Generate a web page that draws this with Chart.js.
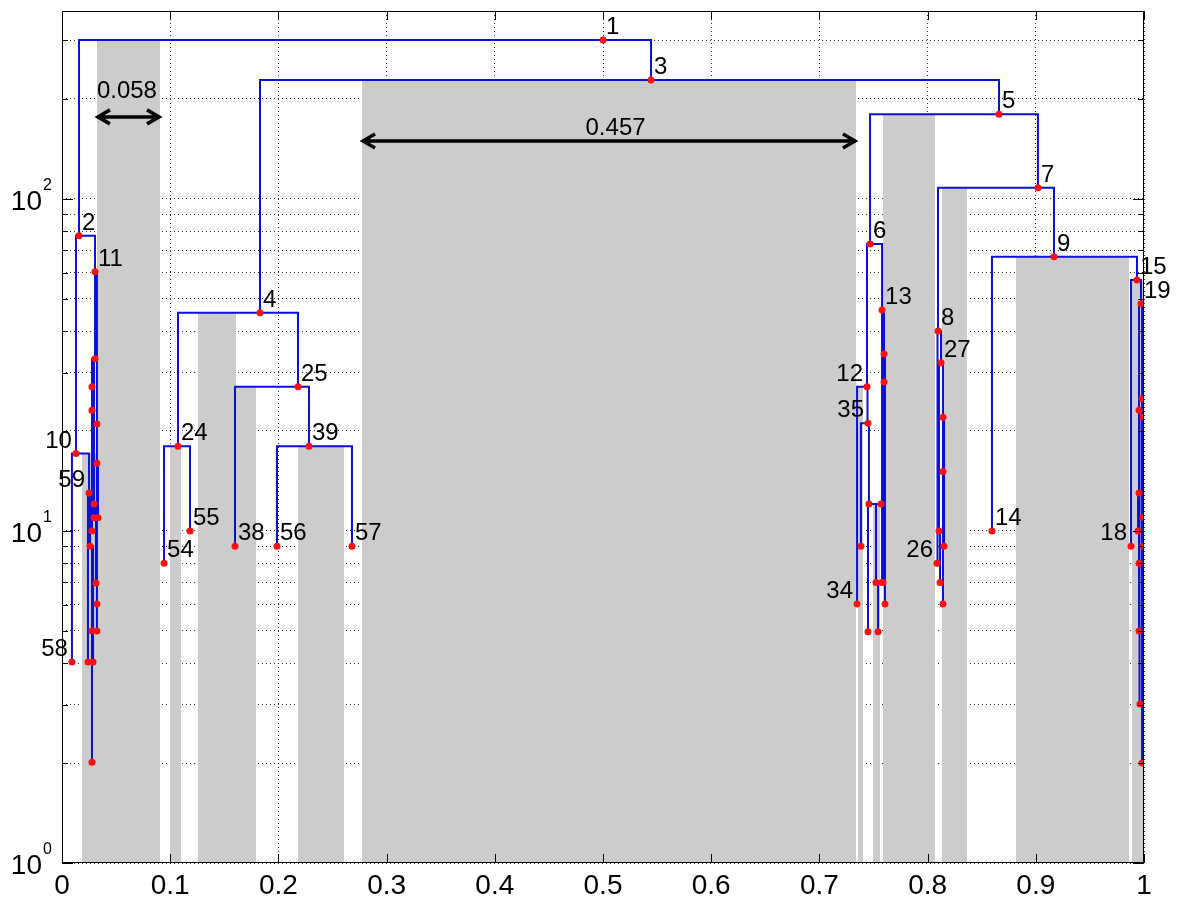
<!DOCTYPE html>
<html>
<head>
<meta charset="utf-8">
<script src="https://cdn.jsdelivr.net/npm/chart.js@4.4.1/dist/chart.umd.min.js"></script>
<style>
  html, body { margin: 0; padding: 0; background: #fff; }
  #wrap { width: 1182px; height: 905px; }
</style>
</head>
<body>
<div id="wrap"><canvas id="dendro" width="1182" height="905"></canvas></div>
<script>
// cluster tree: one entry per node (label, position, merge height, parent index)
const nodeLabel = ['1','2','3','4','5','6','7','8','9','10','11','12','13','14','15','18','19','24','25','38','39','54','55','56','57','58','59','34','35','26','27',
  '','','','','','','','','','','','','','','','','',
  '','','','','','','','','','','',
  '','','','','','',
  '','','','','','','','','','',''];
const nodeX = [0.5000, 0.0157, 0.5444, 0.1830, 0.8660, 0.7468, 0.9020, 0.8096, 0.9168, 0.0129, 0.0305, 0.7440, 0.7579, 0.8595, 0.9935, 0.9880, 0.9972,
  0.1072, 0.2181, 0.1599, 0.2283, 0.0943, 0.1183, 0.1987, 0.2680, 0.0092, 0.0250, 0.7348, 0.7449, 0.8087, 0.8124,
  0.0240, 0.0259, 0.0277, 0.0287, 0.0277, 0.0305, 0.0323, 0.0277, 0.0296, 0.0277, 0.0277, 0.0296, 0.0314, 0.0323, 0.0323, 0.0333, 0.0323,
  0.7384, 0.7458, 0.7449, 0.7569, 0.7523, 0.7542, 0.7597, 0.7579, 0.7597, 0.7606, 0.7588,
  0.8142, 0.8105, 0.8142, 0.8152, 0.8142, 0.8115,
  0.9982, 0.9954, 0.9991, 0.9982, 0.9991, 0.9995, 0.9954, 0.9963, 0.9945, 0.9954, 0.9954];
const nodeH = [301, 77.4, 228, 45.4, 180, 73.2, 108, 40.0, 66.9, 17.1, 60.3, 27.2, 46.3, 10.0, 57.0, 9.0, 48.3,
  18.0, 27.2, 9.0, 18.0, 8.0, 10.0, 9.0, 9.0, 4.03, 13.0, 6.03, 21.1, 8.0, 32.1,
  4.03, 9.0, 5.0, 4.03, 2.01, 33.0, 21.0, 27.2, 12.05, 23.1, 10.0, 10.95, 6.97, 16.0, 6.03, 10.95, 5.0,
  9.0, 12.05, 4.97, 12.05, 7.0, 4.97, 34.1, 7.0, 28.1, 6.03, 7.0,
  22.0, 10.0, 15.1, 9.0, 6.03, 7.0,
  25.0, 23.1, 22.0, 2.0, 11.0, 9.0, 13.0, 3.01, 10.0, 8.0, 5.0];
const nodeParent = [-1, 0, 0, 2, 2, 4, 4, 6, 6, 1, 1, 5, 5, 8, 8, 14, 14,
  3, 3, 18, 18, 17, 17, 20, 20, 9, 9, 11, 11, 7, 7,
  26, 26, 32, 32, 33, 10, 10, 36, 36, 38, 40, 39, 39, 37, 37, 44, 44,
  28, 28, 49, 49, 51, 52, 12, 12, 54, 54, 56,
  30, 30, 59, 59, 61, 60,
  16, 16, 65, 65, 67, 67, 66, 66, 71, 71, 74];
const labelsOnLeft = ['10', '59', '58', '12', '35', '34', '26', '18'];

// shaded gaps between clusters
const gapX0 = [0.0185, 0.0323, 0.0998, 0.1257, 0.1608, 0.2181, 0.2773, 0.7357, 0.7495, 0.7588, 0.8133, 0.8817, 0.9889];
const gapX1 = [0.0906, 0.0906, 0.1100, 0.1608, 0.1793, 0.2606, 0.7338, 0.7403, 0.7560, 0.8068, 0.8364, 0.9861, 0.9995];
const gapTop = [17.1, 301, 18.0, 45.4, 27.2, 18.0, 228, 27.2, 12.05, 180, 108, 66.9, 57.0];

// width annotations
const arrowX0 = [0.0323, 0.2773];
const arrowX1 = [0.0906, 0.7338];
const arrowH = [176.6, 149.4];
const arrowText = ['0.058', '0.457'];
const arrowTextX = [0.0600, 0.5116];
const arrowTextH = [201.5, 155.9];

// axes
const xTickValues = [0, 0.1, 0.2, 0.3, 0.4, 0.5, 0.6, 0.7, 0.8, 0.9, 1];
const yGridValues = [1, 2, 3, 4, 5, 6, 7, 8, 9, 10, 20, 30, 40, 50, 60, 70, 80, 90, 100, 200, 300];
const yLabelValues = [1, 10, 100];
const yLabelExp = ['0', '1', '2'];
const yMax = 368;

const FONT = '"Liberation Sans", Arial, sans-serif';

const linkPoints = [];
nodeParent.forEach((p, i) => {
  if (p < 0) return;
  linkPoints.push({x: nodeX[i], y: nodeH[i]}, {x: nodeX[i], y: nodeH[p]}, {x: nodeX[p], y: nodeH[p]}, {x: nodeX[p], y: null});
});

const datasets = [
  { data: nodeX.map((x, i) => ({x: x, y: nodeH[i]})), showLine: false, pointRadius: 3.5, pointHoverRadius: 3.5,
    pointBackgroundColor: '#ff1010', pointBorderWidth: 0 },
  { data: linkPoints, borderColor: '#0a10d8', borderWidth: 2, pointRadius: 0, spanGaps: false, fill: false, tension: 0 }
];
gapX0.forEach((x0, i) => {
  datasets.push({ data: [{x: x0, y: gapTop[i]}, {x: gapX1[i], y: gapTop[i]}], fill: 'start',
    backgroundColor: '#cccccc', borderColor: 'rgba(0,0,0,0)', borderWidth: 0, pointRadius: 0 });
});

function drawArrow(ctx, xa, xb, yy) {
  ctx.beginPath();
  ctx.moveTo(xa, yy); ctx.lineTo(xb, yy);
  ctx.moveTo(xa + 13, yy - 7); ctx.lineTo(xa + 1, yy); ctx.lineTo(xa + 13, yy + 7);
  ctx.moveTo(xb - 13, yy - 7); ctx.lineTo(xb - 1, yy); ctx.lineTo(xb - 13, yy + 7);
  ctx.stroke();
}

const overlay = {
  id: 'overlay',
  afterDatasetsDraw(chart) {
    const ctx = chart.ctx, a = chart.chartArea, x = chart.scales.x, y = chart.scales.y;
    ctx.save();

    // arrows and their labels
    ctx.strokeStyle = '#000'; ctx.lineWidth = 3.5; ctx.lineJoin = 'miter';
    ctx.fillStyle = '#000'; ctx.font = '24px ' + FONT; ctx.textAlign = 'center'; ctx.textBaseline = 'alphabetic';
    arrowX0.forEach((x0, i) => {
      drawArrow(ctx, x.getPixelForValue(x0), x.getPixelForValue(arrowX1[i]), y.getPixelForValue(arrowH[i]));
      ctx.fillText(arrowText[i], x.getPixelForValue(arrowTextX[i]), y.getPixelForValue(arrowTextH[i]));
    });

    // node labels
    nodeLabel.forEach((t, i) => {
      if (!t) return;
      const px = x.getPixelForValue(nodeX[i]), py = y.getPixelForValue(nodeH[i]);
      if (labelsOnLeft.includes(t)) { ctx.textAlign = 'right'; ctx.fillText(t, px - 4, py - 6); }
      else { ctx.textAlign = 'left'; ctx.fillText(t, px + 3, py - 6); }
    });

    // inward ticks and box
    ctx.strokeStyle = '#000'; ctx.lineWidth = 1;
    ctx.beginPath();
    xTickValues.forEach(v => {
      const px = Math.round(x.getPixelForValue(v)) + 0.5;
      ctx.moveTo(px, a.bottom); ctx.lineTo(px, a.bottom - 9);
      ctx.moveTo(px, a.top); ctx.lineTo(px, a.top + 9);
    });
    yGridValues.forEach(v => {
      const py = Math.round(y.getPixelForValue(v)) + 0.5;
      const len = yLabelValues.includes(v) ? 11 : 6;
      ctx.moveTo(a.left, py); ctx.lineTo(a.left + len, py);
      ctx.moveTo(a.right, py); ctx.lineTo(a.right - len, py);
    });
    ctx.stroke();
    ctx.strokeRect(a.left + 0.5, a.top + 0.5, a.right - a.left - 1, a.bottom - a.top - 1);

    // y tick labels 10^n
    ctx.fillStyle = '#000'; ctx.textBaseline = 'alphabetic';
    yLabelValues.forEach((v, i) => {
      const py = y.getPixelForValue(v);
      ctx.font = '28px ' + FONT; ctx.textAlign = 'right';
      ctx.fillText('10', 42, py + 11);
      ctx.font = '16px ' + FONT; ctx.textAlign = 'left';
      ctx.fillText(yLabelExp[i], 43, py - 9);
    });
    ctx.restore();
  }
};

new Chart(document.getElementById('dendro'), {
  type: 'line',
  data: { datasets: datasets },
  options: {
    responsive: false,
    animation: false,
    events: [],
    layout: { padding: { top: 11, right: 38, left: 0, bottom: 0 } },
    plugins: { legend: { display: false }, tooltip: { enabled: false } },
    scales: {
      x: {
        type: 'linear', min: 0, max: 1,
        afterBuildTicks: s => { s.ticks = xTickValues.map(v => ({value: v})); },
        afterFit: s => { s.height = 42; },
        grid: { color: 'rgba(0,0,0,0.8)', lineWidth: 1, drawTicks: false },
        border: { display: false, dash: [1, 3] },
        ticks: { color: '#000', font: { family: FONT, size: 28 }, padding: 6, maxRotation: 0, autoSkip: false,
                 callback: v => String(v) }
      },
      y: {
        type: 'logarithmic', min: 1, max: yMax,
        afterBuildTicks: s => { s.ticks = yGridValues.map(v => ({value: v})); },
        afterFit: s => { s.width = 62; },
        grid: { color: 'rgba(0,0,0,0.8)', lineWidth: 1, drawTicks: false },
        border: { display: false, dash: [1, 3] },
        ticks: { callback: () => '', padding: 0 }
      }
    }
  },
  plugins: [overlay]
});
</script>
</body>
</html>
